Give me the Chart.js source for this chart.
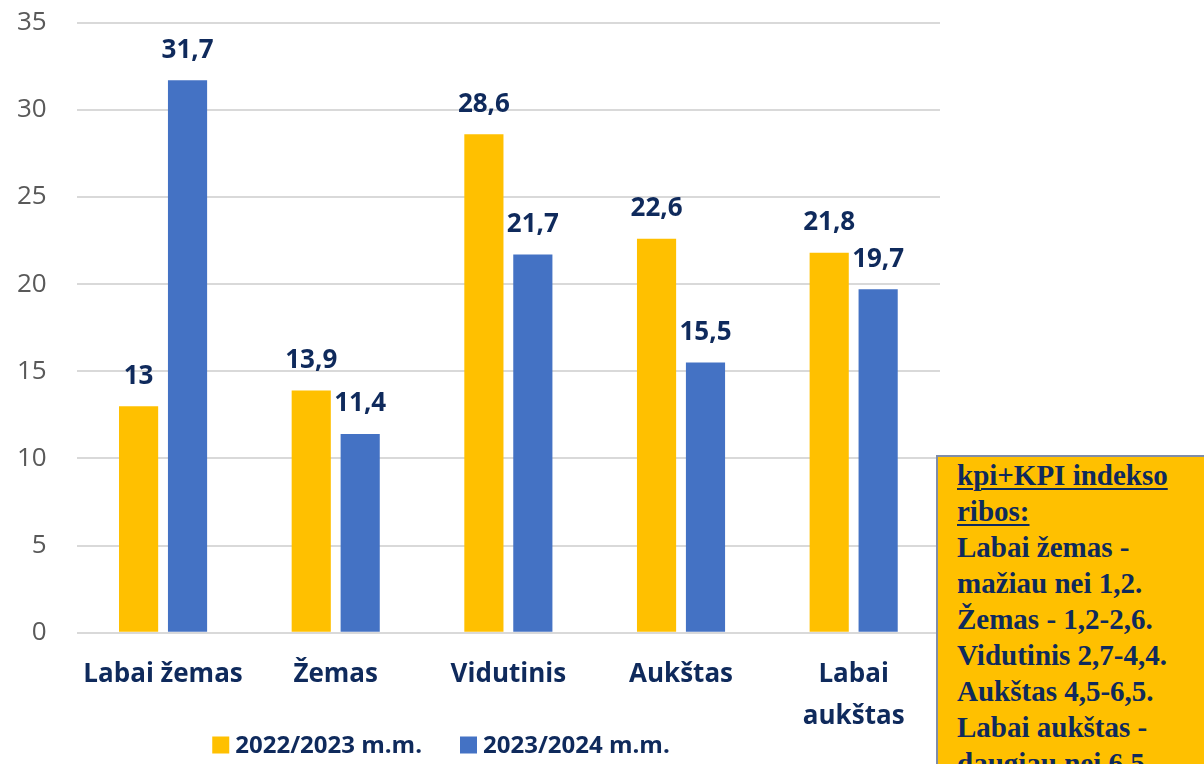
<!DOCTYPE html>
<html>
<head>
<meta charset="utf-8">
<script src="https://cdn.jsdelivr.net/npm/chart.js@4.4.1/dist/chart.umd.min.js"></script>
<style>
  html, body { margin: 0; padding: 0; background: #fff; }
  #wrap { position: relative; width: 1204px; height: 764px; overflow: hidden; }
  #chartBox { position: absolute; left: 0; top: -23px; width: 958px; height: 787px; }
  #note {
    position: absolute; left: 936px; top: 455px; width: 280px; height: 330px;
    background: #FFC000; border: 2px solid #7F8CA8; box-sizing: border-box;
    padding: 0 0 0 19px; white-space: nowrap;
    font-family: "Liberation Serif", "Times New Roman", serif; font-weight: bold;
    font-size: 29px; line-height: 36px; color: #0F2A5C;
  }
  #note u { text-decoration-thickness: 2px; text-underline-offset: 3px; }
</style>
</head>
<body>
<div id="wrap">
  <div id="chartBox"><canvas id="kpiChart"></canvas></div>
  <div id="note"><u>kpi+KPI indekso<br>ribos:</u><br>Labai žemas -<br>mažiau nei 1,2.<br>Žemas - 1,2-2,6.<br>Vidutinis 2,7-4,4.<br>Aukštas 4,5-6,5.<br>Labai aukštas -<br>daugiau nei 6,5</div>
</div>
<script>
const categories = ["Labai žemas", "Žemas", "Vidutinis", "Aukštas", ["Labai", "aukštas"]];
const seriesNames = ["2022/2023 m.m.", "2023/2024 m.m."];
const values2022 = [13, 13.9, 28.6, 22.6, 21.8];
const values2023 = [31.7, 11.4, 21.7, 15.5, 19.7];

const navy = "#0F2A5C";
const fontFamily = "'Open Sans', sans-serif";

function formatValue(v) {
    return String(v).replace(".", ",");
}

// draws the value above each bar
const valueLabels = {
    id: "valueLabels",
    afterDatasetsDraw(chart) {
        const ctx = chart.ctx;
        ctx.save();
        ctx.font = "bold 26px " + fontFamily;
        ctx.fillStyle = navy;
        ctx.textAlign = "center";
        ctx.textBaseline = "middle";
        chart.data.datasets.forEach(function(ds, i) {
            chart.getDatasetMeta(i).data.forEach(function(bar, j) {
                ctx.fillText(formatValue(ds.data[j]), bar.x, bar.y - 30);
            });
        });
        ctx.restore();
    }
};

// legend at the bottom, drawn by hand so the gaps can be set
const bottomLegend = {
    id: "bottomLegend",
    afterDraw(chart, args, opts) {
        const ctx = chart.ctx;
        const box = 17, gapText = 6, gapItem = 38;
        ctx.save();
        ctx.font = "bold 24px " + fontFamily;
        ctx.textBaseline = "middle";
        ctx.textAlign = "left";
        const items = chart.data.datasets.map(function(ds) {
            return { text: ds.label, color: ds.backgroundColor, w: ctx.measureText(ds.label).width };
        });
        let total = 0;
        items.forEach(function(it, i) {
            total += box + gapText + it.w + (i > 0 ? gapItem : 0);
        });
        let x = opts.center - total / 2;
        const y = chart.height - 19;
        items.forEach(function(it) {
            ctx.fillStyle = it.color;
            ctx.fillRect(x, y - box / 2, box, box);
            ctx.fillStyle = navy;
            ctx.fillText(it.text, x + box + gapText, y + 1);
            x += box + gapText + it.w + gapItem;
        });
        ctx.restore();
    }
};

const ctx = document.getElementById("kpiChart").getContext("2d");
new Chart(ctx, {
    type: "bar",
    data: {
        labels: categories,
        datasets: [{
            label: seriesNames[0],
            data: values2022,
            backgroundColor: "#FFC000",
            categoryPercentage: 0.567,
            barPercentage: 0.8
        }, {
            label: seriesNames[1],
            data: values2023,
            backgroundColor: "#4472C4",
            categoryPercentage: 0.567,
            barPercentage: 0.8
        }]
    },
    options: {
        responsive: true,
        maintainAspectRatio: false,
        animation: false,
        layout: { padding: { top: 0, right: 18, left: -13, bottom: 14 } },
        plugins: {
            tooltip: { enabled: false },
            legend: { display: false },
            bottomLegend: { center: 441 }
        },
        scales: {
            x: {
                grid: { display: false },
                border: { display: false },
                ticks: {
                    color: navy,
                    maxRotation: 0,
                    padding: 13,
                    font: { family: fontFamily, size: 26, weight: "bold", lineHeight: 1.6 }
                }
            },
            y: {
                min: 0,
                max: 35,
                ticks: {
                    stepSize: 5,
                    color: "#595959",
                    padding: 30,
                    font: { family: fontFamily, size: 26 }
                },
                grid: { color: "#D9D9D9", lineWidth: 2, drawTicks: false },
                border: { display: false }
            }
        }
    },
    plugins: [valueLabels, bottomLegend]
});
</script>
</body>
</html>
